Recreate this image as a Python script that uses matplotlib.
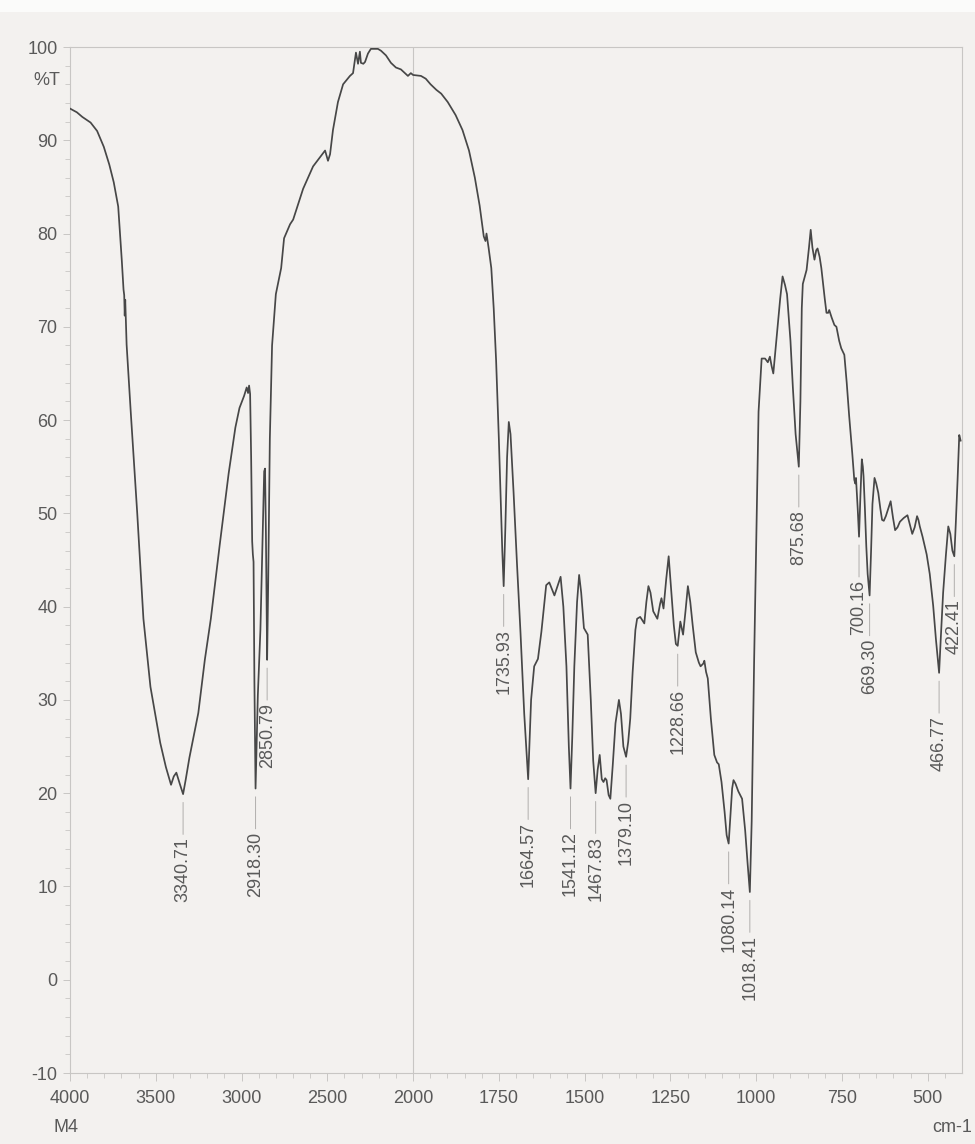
import numpy as np
import matplotlib
matplotlib.use("Agg")
import matplotlib.pyplot as plt
from matplotlib.ticker import FixedLocator, NullFormatter
from matplotlib.patches import Rectangle

plt.rcParams["font.family"] = ["Liberation Sans", "DejaVu Sans"]

# FTIR spectrum, sample M4 (wavenumber in cm-1, transmittance in %T)
wavenumber = [
    4000, 3960, 3928, 3880, 3842, 3803, 3771, 3745, 3719, 3708, 3698, 3688, 3684, 3681,
    3678, 3674, 3670, 3646, 3608, 3572, 3531, 3474, 3441, 3411, 3395, 3380, 3360, 3340.71,
    3325, 3304, 3252, 3214, 3179, 3128, 3075, 3036, 3012, 2985, 2970, 2962, 2956, 2950,
    2944, 2938, 2934, 2930, 2925, 2918.30, 2905, 2890, 2878, 2868, 2863, 2858, 2853,
    2850.79, 2845, 2835, 2822, 2800, 2769, 2752, 2717, 2699, 2641, 2583, 2542, 2513, 2496,
    2484, 2467, 2438, 2408, 2368, 2350, 2339, 2333, 2321, 2310, 2304, 2290, 2280, 2263,
    2246, 2205, 2187, 2158, 2129, 2100, 2071, 2030, 2013,
    2000, 1977, 1963, 1949, 1932, 1918, 1899, 1876, 1856, 1837, 1820, 1806, 1794, 1789,
    1786, 1780, 1772, 1765, 1758, 1750, 1744, 1740, 1735.93, 1731, 1726, 1721, 1716, 1707,
    1697, 1687, 1676, 1664.57, 1656, 1647, 1636, 1626, 1612, 1603, 1588, 1570, 1562, 1553,
    1546, 1541.12, 1536, 1530, 1522, 1516, 1510, 1502, 1491, 1482, 1475, 1467.83, 1462,
    1456, 1450, 1445, 1440, 1436, 1430, 1425, 1418, 1410, 1400, 1394, 1387, 1379.10, 1373,
    1367, 1360, 1352, 1347, 1338, 1331, 1326, 1320, 1314, 1308, 1300, 1288, 1280, 1276,
    1270, 1262, 1255, 1248, 1240, 1234, 1228.66, 1221, 1213, 1206, 1199, 1192, 1185, 1176,
    1167, 1162, 1154, 1151, 1146, 1141, 1132, 1122, 1114, 1109, 1101, 1092, 1086, 1080.14,
    1075, 1070, 1066, 1060, 1052, 1041, 1032, 1025, 1018.41, 1013, 1010, 1006, 1001, 993,
    984, 974, 966, 960, 955, 950, 945, 940, 930, 923, 916, 910, 900, 893, 885, 875.68, 871,
    867, 864, 861, 853, 846, 841, 836, 830, 825, 821, 815, 810, 800, 795, 790, 787, 780,
    772, 766, 758, 752, 743, 736, 729, 720, 714, 711, 709, 704, 700.16, 696, 692, 689, 687,
    683, 679, 675, 669.30, 665, 661, 655, 650, 644, 638, 633, 628, 622, 615, 608, 601, 595,
    588, 581, 570, 559, 552, 545, 538, 531, 527, 523, 515, 503, 494, 484, 476, 466.77, 462,
    455, 447, 440, 434, 428, 422.41, 418, 413, 408, 404,
]
transmittance = [
    93.4, 93.0, 92.5, 91.9, 91.0, 89.3, 87.4, 85.5, 82.9, 79.9, 77.1, 74.0, 73.4, 71.2,
    72.9, 70.6, 68.1, 60.9, 50.0, 38.7, 31.4, 25.4, 22.8, 20.9, 21.8, 22.2, 21.0, 19.9,
    21.5, 23.8, 28.6, 34.3, 38.7, 46.5, 54.3, 59.2, 61.3, 62.6, 63.5, 62.9, 63.7, 62.8,
    56.0, 47.0, 45.6, 44.8, 32.0, 20.5, 30.5, 37.5, 47.0, 54.5, 54.8, 48.0, 38.0,
    34.3, 42.0, 58.0, 68.0, 73.5, 76.3, 79.5, 81.0, 81.5, 84.8, 87.2, 88.2, 88.9, 87.8,
    88.5, 91.1, 94.1, 96.0, 96.9, 97.2, 98.6, 99.4, 98.2, 99.5, 98.3, 98.2, 98.4, 99.3,
    99.8, 99.8, 99.6, 99.1, 98.3, 97.8, 97.6, 96.9, 97.2,
    97.0, 96.9, 96.6, 96.0, 95.4, 95.0, 94.1, 92.7, 91.1, 88.9, 86.0, 83.0, 79.7, 79.2,
    80.0, 78.5, 76.3, 72.0, 66.4, 58.0, 51.0, 46.0, 42.2, 48.5, 56.0, 59.8, 58.5, 52.2,
    44.5, 37.3, 28.5, 21.5, 30.0, 33.6, 34.4, 37.3, 42.3, 42.6, 41.2, 43.2, 40.0, 33.6,
    25.0, 20.5, 26.0, 33.6, 40.5, 43.4, 41.5, 37.7, 37.0, 30.0, 23.5, 20.0, 22.5,
    24.1, 21.5, 21.2, 21.6, 21.4, 19.8, 19.4, 23.0, 27.5, 30.0, 28.5, 25.0, 23.9, 25.5,
    28.0, 33.0, 37.5, 38.7, 38.9, 38.5, 38.2, 40.5, 42.2, 41.5, 39.5, 38.7, 40.3, 40.9,
    39.8, 43.0, 45.4, 42.0, 38.0, 36.0, 35.8, 38.4, 37.0, 39.5, 42.2, 40.5, 38.0, 35.1,
    34.0, 33.6, 33.9, 34.2, 33.0, 32.3, 28.0, 24.1, 23.3, 23.1, 21.2, 18.0, 15.5, 14.6,
    17.5, 20.5, 21.4, 21.0, 20.2, 19.4, 16.0, 12.5, 9.4, 17.0, 24.1, 34.0, 44.6, 60.9,
    66.6, 66.6, 66.2, 66.8, 65.8, 65.0, 67.0, 69.0, 73.0, 75.4, 74.5, 73.5, 68.5, 63.5, 58.5, 55.0, 62.0,
    72.0, 74.6, 75.0, 76.1, 78.5, 80.4, 78.5, 77.2, 78.2, 78.4, 77.5, 76.3, 73.0, 71.5, 71.5, 71.8, 71.0,
    70.2, 70.0, 68.5, 67.7, 67.0, 64.0, 60.5, 56.5, 53.6, 53.2, 53.8, 50.5, 47.5, 52.0, 55.8, 55.0, 54.0,
    50.5, 46.5, 43.5, 41.2, 46.0, 51.0, 53.8, 53.2, 52.2, 50.5, 49.3, 49.2, 49.7, 50.5, 51.3, 49.5, 48.2,
    48.5, 49.1, 49.5, 49.8, 48.8, 47.8, 48.5, 49.7, 49.3, 48.6, 47.5, 45.6, 43.5, 40.1, 36.5, 32.9, 36.5,
    41.5, 45.5, 48.6, 47.8, 46.0, 45.4, 49.0, 53.5, 58.4, 57.8,
]
peak_wavenumbers = [3340.71, 2918.30, 2850.79, 1735.93, 1664.57, 1541.12, 1467.83, 1379.10,
                    1228.66, 1080.14, 1018.41, 875.68, 700.16, 669.30, 466.77, 422.41]
x_ticks = [4000, 3500, 3000, 2500, 2000, 1750, 1500, 1250, 1000, 750, 500]
y_ticks = [100, 90, 80, 70, 60, 50, 40, 30, 20, 10, 0, -10]

paper = "#f3f1ef"
text_c = "#595959"
frame_c = "#c8c6c4"


def fwd(w):
    # above 2000 cm-1 the chart is drawn at half scale
    w = np.asarray(w, dtype=float)
    return np.where(w > 2000, 2000 + (w - 2000) / 2, w)


def inv(u):
    u = np.asarray(u, dtype=float)
    return np.where(u > 2000, 2000 + (u - 2000) * 2, u)


fig = plt.figure(figsize=(9.75, 11.44), dpi=100, facecolor=paper)
fig.patches.append(Rectangle((0, 1 - 12 / 1144), 1, 12 / 1144, transform=fig.transFigure,
                             facecolor="#fbfbfa", edgecolor="none"))
ax = fig.add_axes([70 / 975, 71 / 1144, 892 / 975, 1026 / 1144])
ax.set_facecolor(paper)

wn = np.array(wavenumber)
tr = np.array(transmittance)
ax.set_xscale("function", functions=(fwd, inv))
ax.plot(wn, tr, color="#474747", lw=1.25, zorder=3)
ax.axvline(2000, color=frame_c, lw=0.8, zorder=1)

ax.set_xlim(4000, 400)
ax.set_ylim(-10, 100)

ax.xaxis.set_major_locator(FixedLocator(x_ticks))
ax.xaxis.set_minor_locator(FixedLocator(list(range(3900, 2000, -100)) + list(range(1950, 400, -50))))
ax.xaxis.set_minor_formatter(NullFormatter())
ax.set_xticklabels([str(v) for v in x_ticks])
ax.yaxis.set_major_locator(FixedLocator(y_ticks))
ax.yaxis.set_minor_locator(FixedLocator(list(range(-8, 100, 2))))
ax.set_yticklabels([str(v) for v in y_ticks])

ax.tick_params(axis="x", which="major", direction="out", length=6, width=0.7, pad=6,
               color=frame_c, labelcolor=text_c, labelsize=13)
ax.tick_params(axis="x", which="minor", direction="out", length=3.5, width=0.6, color=frame_c)
ax.tick_params(axis="y", which="major", direction="out", length=5, width=0.7, pad=4,
               color=frame_c, labelcolor=text_c, labelsize=13)
ax.tick_params(axis="y", which="minor", direction="out", length=3.5, width=0.6, color=frame_c)
for side in ax.spines.values():
    side.set_color(frame_c)
    side.set_linewidth(0.8)

ax.text(-0.011, 96.4, "%T", transform=ax.get_yaxis_transform(), ha="right", va="center",
        fontsize=13, color=text_c)
fig.text(66 / 975, 1 - 1128 / 1144, "M4", ha="center", va="center", fontsize=13, color=text_c)
fig.text(952 / 975, 1 - 1128 / 1144, "cm-1", ha="center", va="center", fontsize=13, color=text_c)

# peak labels hang below each minimum on a short leader
order = np.argsort(wn)
for w in peak_wavenumbers:
    t = np.interp(w, wn[order], tr[order])
    ax.annotate(f"{w:.2f}", xy=(w, t), xytext=(0, -31), textcoords="offset points",
                rotation=90, ha="center", va="top", fontsize=13, color=text_c,
                arrowprops=dict(arrowstyle="-", color="#b0aeac", lw=0.7, shrinkA=0, shrinkB=6))

fig.savefig("out.png", dpi=100, facecolor=paper)
